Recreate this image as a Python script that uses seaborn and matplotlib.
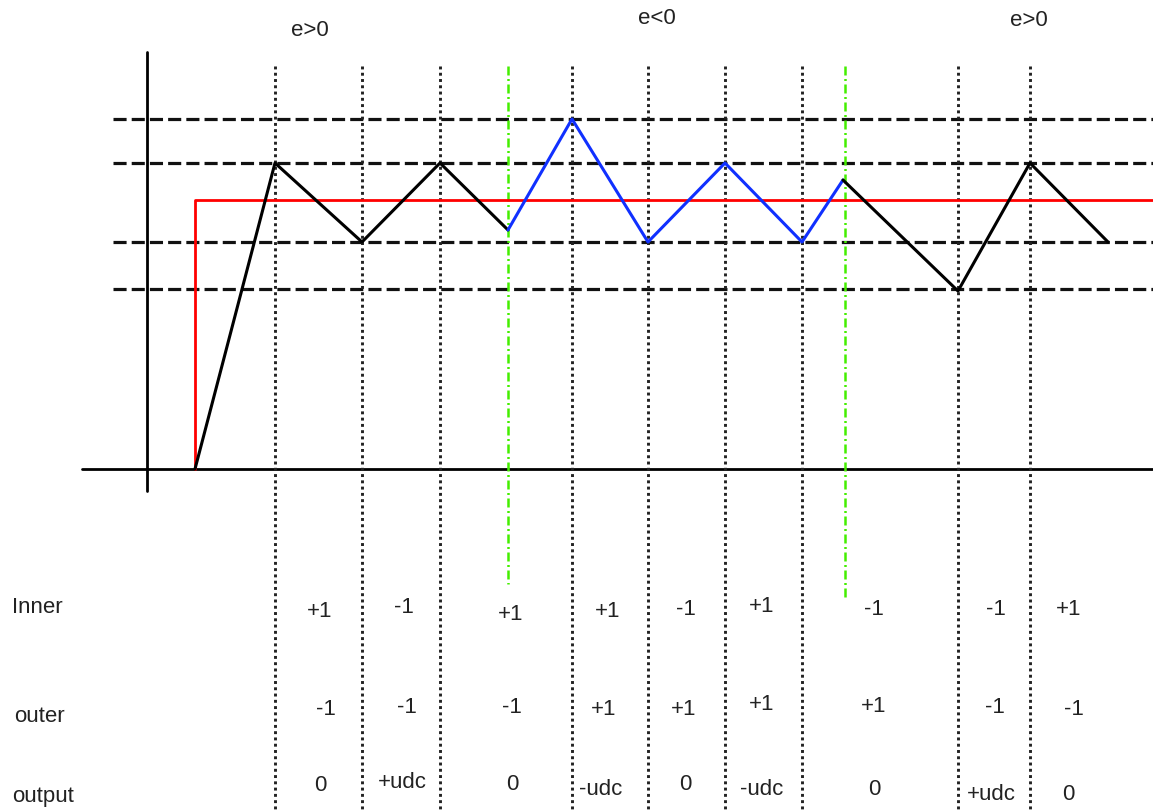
import seaborn as sns
import matplotlib.pyplot as plt

# switching instants (dotted verticals) and sector changes (green dash-dot)
switch_t = [275, 362, 440, 572, 648, 725, 802, 958, 1030]
sector_t = [508, 845]
sector_end = [585, 600]
# hysteresis band levels (dashed)
band_levels = [120, 164, 243, 290]

# reference (red)
ref_t = [195, 195, 1153]
ref_v = [470, 201, 201]

# current waveform, three pieces
wave1_t = [195, 275, 362, 440, 508]
wave1_v = [470, 164, 243, 164, 231]
wave2_t = [508, 572, 648, 725, 802, 843]
wave2_v = [231, 120, 243, 164, 243, 181]
wave3_t = [843, 958, 1030, 1108]
wave3_v = [181, 292, 164, 243]

# sector labels
sector_labels = ["e>0", "e<0", "e>0"]

# table
row_names = ["Inner", "outer", "output"]
inner_vals = ["+1", "-1", "+1", "+1", "-1", "+1", "-1", "-1", "+1"]
outer_vals = ["-1", "-1", "-1", "+1", "+1", "+1", "+1", "-1", "-1"]
output_vals = ["0", "+udc", "0", "-udc", "0", "-udc", "0", "+udc", "0"]

sns.set_style("white")
plt.rcParams['font.family'] = ['Liberation Sans', 'DejaVu Sans']

fig = plt.figure(figsize=(11.53, 8.12), dpi=100)
ax = fig.add_axes([0, 0, 1, 1])
ax.set_xlim(0, 1153)
ax.set_ylim(812, 0)
ax.axis('off')

# axes of the sketch
ax.plot([147, 147], [53, 492], color='black', lw=2)
ax.plot([82, 1153], [470, 470], color='black', lw=2)

# band lines
for lv in band_levels:
    ax.plot([113, 1153], [lv, lv], color='#111111', lw=2.3, ls=(0, (4.1, 1.6)))

# dotted verticals
for t in switch_t:
    ax.plot([t, t], [67, 812], color='#222222', lw=2.1, ls=(0, (1, 1.15)))

# green dash-dot lines
for t, end in zip(sector_t, sector_end):
    ax.plot([t, t], [67, end], color='#44ee00', lw=1.8, ls=(0, (3.6, 1.4, 0.8, 1.4)))

sns.lineplot(x=ref_t, y=ref_v, sort=False, estimator=None, color='red', lw=2, ax=ax)
sns.lineplot(x=wave1_t, y=wave1_v, sort=False, estimator=None, color='black', lw=2.2, ax=ax)
sns.lineplot(x=wave2_t, y=wave2_v, sort=False, estimator=None, color='#1030ff', lw=2.2, ax=ax)
sns.lineplot(x=wave3_t, y=wave3_v, sort=False, estimator=None, color='black', lw=2.2, ax=ax)

fs = 16
sector_pos = [(310, 30), (657, 18), (1029, 20)]
for lab, (x, y) in zip(sector_labels, sector_pos):
    ax.text(x, y, lab, fontsize=fs, ha='center', va='center', color='#222222')

row_pos = [(12, 608), (14, 717), (12, 797)]
for lab, (x, y) in zip(row_names, row_pos):
    ax.text(x, y, lab, fontsize=fs, ha='left', va='center', color='#222222')

inner_x = [320, 404, 511, 608, 686, 762, 874, 996, 1069]
inner_y = [612, 608, 615, 612, 610, 607, 610, 610, 610]
outer_x = [326, 407, 512, 604, 684, 762, 874, 995, 1074]
outer_y = [710, 708, 708, 710, 710, 705, 707, 708, 710]
output_x = [320, 402, 512, 601, 685, 762, 874, 991, 1068]
output_y = [786, 783, 785, 790, 785, 790, 790, 795, 795]

for vals, xs, ys in [(inner_vals, inner_x, inner_y),
                     (outer_vals, outer_x, outer_y),
                     (output_vals, output_x, output_y)]:
    for v, x, y in zip(vals, xs, ys):
        ax.text(x, y, v, fontsize=fs, ha='center', va='center', color='#222222')

fig.savefig('out.png', dpi=100)
